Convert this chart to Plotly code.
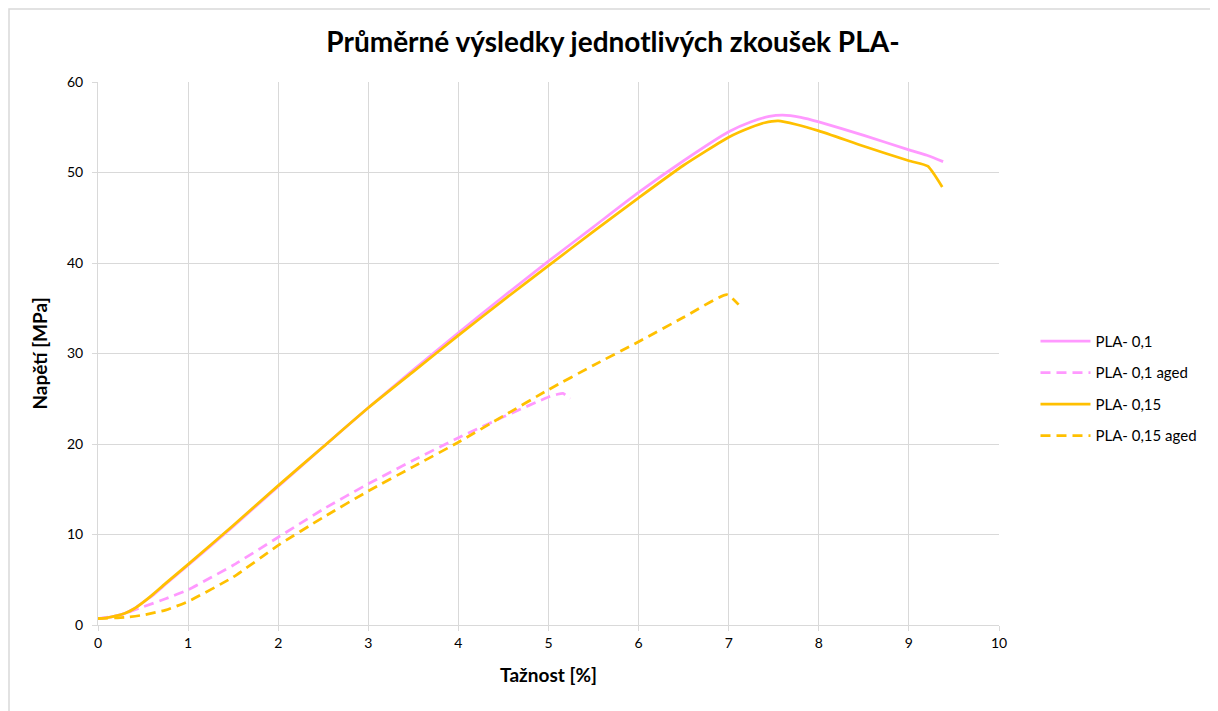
import plotly.graph_objects as go

# PLA- 0,1 (solid, pink)
x_01 = [0, 0.1, 0.2, 0.3, 0.4, 0.5, 0.6, 0.75, 1, 1.5, 2, 2.5, 3, 3.5, 4, 4.5, 5, 5.5, 6, 6.5, 7, 7.25, 7.45, 7.6, 7.8, 8, 8.5, 9, 9.2, 9.38]
y_01 = [0.7, 0.8, 1.0, 1.3, 1.8, 2.5, 3.2, 4.5, 6.6, 10.9, 15.3, 19.7, 24.0, 28.2, 32.3, 36.3, 40.2, 44.0, 47.8, 51.3, 54.5, 55.6, 56.2, 56.35, 56.1, 55.6, 54.1, 52.5, 51.9, 51.2]

# PLA- 0,1 aged (dashed, pink)
x_01a = [0, 0.25, 0.5, 0.75, 1, 1.5, 2, 2.5, 3, 3.5, 4, 4.5, 5, 5.1, 5.16, 5.24]
y_01a = [0.7, 1.1, 2.0, 2.9, 3.9, 6.6, 9.7, 12.8, 15.6, 18.2, 20.7, 23.0, 25.2, 25.5, 25.6, 25.0]

# PLA- 0,15 (solid, orange)
x_015 = [0, 0.1, 0.2, 0.3, 0.4, 0.5, 0.6, 0.75, 1, 1.5, 2, 2.5, 3, 3.5, 4, 4.5, 5, 5.5, 6, 6.5, 7, 7.25, 7.4, 7.55, 7.75, 8, 8.5, 9, 9.21, 9.28, 9.37]
y_015 = [0.7, 0.8, 1.0, 1.3, 1.8, 2.5, 3.3, 4.6, 6.7, 11.0, 15.4, 19.7, 24.0, 28.0, 32.0, 35.9, 39.7, 43.5, 47.2, 50.8, 53.9, 55.0, 55.5, 55.7, 55.3, 54.6, 52.9, 51.3, 50.7, 49.8, 48.4]

# PLA- 0,15 aged (dashed, orange)
x_015a = [0, 0.3, 0.5, 0.75, 1, 1.5, 2, 2.5, 3, 3.5, 4, 4.5, 5, 5.5, 6, 6.5, 6.98, 7.11]
y_015a = [0.7, 0.85, 1.1, 1.65, 2.6, 5.3, 8.8, 11.9, 14.8, 17.5, 20.2, 23.1, 26.0, 28.7, 31.3, 34.0, 36.5, 35.4]

pink = '#ff99ff'
orange = '#ffc000'
font = 'Lato'
names = ['PLA- 0,1', 'PLA- 0,1 aged', 'PLA- 0,15', 'PLA- 0,15 aged']

fig = go.Figure()
fig.add_trace(go.Scatter(x=x_01, y=y_01, name=names[0], legendgroup='a', mode='lines',
                         line=dict(color=pink, width=2.75, shape='spline', smoothing=0.5)))
fig.add_trace(go.Scatter(x=x_01a, y=y_01a, name=names[1], legendgroup='b', mode='lines',
                         line=dict(color=pink, width=2.75, dash='10px,6px', shape='spline', smoothing=0.4)))
fig.add_trace(go.Scatter(x=x_015, y=y_015, name=names[2], legendgroup='c', mode='lines',
                         line=dict(color=orange, width=2.75, shape='spline', smoothing=0.5)))
fig.add_trace(go.Scatter(x=x_015a, y=y_015a, name=names[3], legendgroup='d', mode='lines',
                         line=dict(color=orange, width=2.75, dash='10px,6px', shape='spline', smoothing=0.5)))

fig.update_xaxes(range=[0, 10], dtick=1, showgrid=True, gridcolor='#d9d9d9',
                 showline=True, linecolor='#d9d9d9', linewidth=1,
                 ticks='outside', ticklen=5, tickcolor='#d9d9d9',
                 zeroline=False, tickfont=dict(family=font, size=14, color='#000'),
                 title=dict(text='<b>Tažnost [%]</b>', font=dict(family=font, size=19, color='#000'), standoff=18))
fig.update_yaxes(range=[0, 60], dtick=10, showgrid=True, gridcolor='#d9d9d9',
                 showline=True, linecolor='#d9d9d9', linewidth=1,
                 ticks='outside', ticklen=5, tickcolor='#d9d9d9', ticklabelstandoff=6,
                 zeroline=False, tickfont=dict(family=font, size=14, color='#000'),
                 title=dict(text='<b>Napětí [MPa]</b>', font=dict(family=font, size=19, color='#000'), standoff=14))

# page body adds an 8px margin, so the figure is 8px smaller and shifted
fig.update_layout(
    width=1210, height=703,
    margin=dict(l=90, r=219, t=74, b=86),
    paper_bgcolor='white', plot_bgcolor='white',
    title=dict(text='<b>Průměrné výsledky jednotlivých zkoušek PLA-</b>',
               font=dict(family=font, size=28, color='#000'),
               x=0.5, xanchor='center', y=0.952, yanchor='middle'),
    legend=dict(x=1.0405, y=0.436, xanchor='left', yanchor='middle',
                font=dict(family=font, size=15, color='#000'),
                tracegroupgap=9, itemwidth=50),
    showlegend=True,
)

# light chart-area border
fig.add_shape(type='rect', xref='paper', yref='paper',
              x0=(9 - 98) / 901, x1=(1215 - 98) / 901,
              y0=(625 - 720) / 543, y1=(625 - 9) / 543,
              line=dict(color='#d9d9d9', width=1.5), layer='below')

fig.write_html("out.html")
